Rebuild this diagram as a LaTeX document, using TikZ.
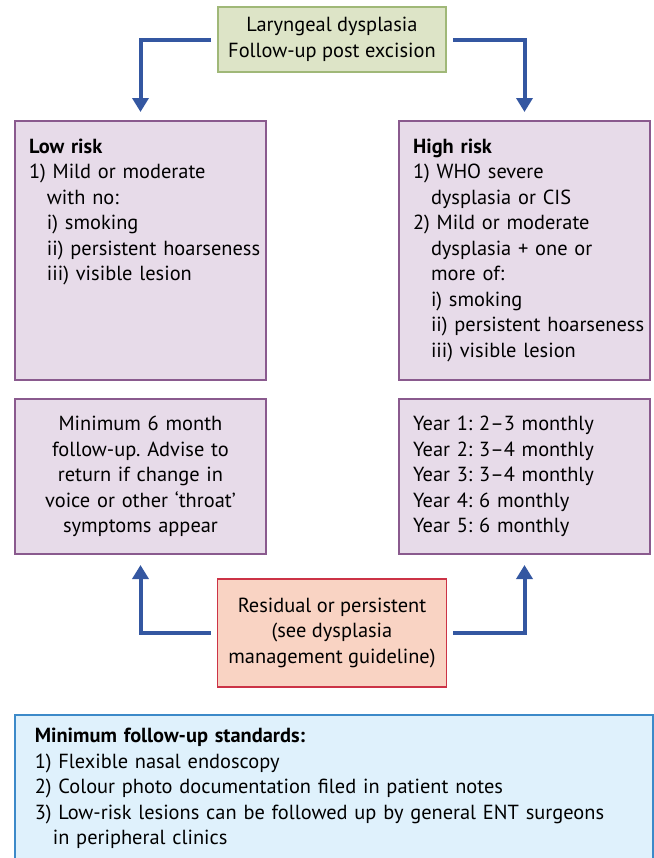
\documentclass[tikz,border=0pt]{standalone}
\usepackage{fontspec}
\setmainfont{PT Sans}
\usetikzlibrary{positioning,arrows.meta,calc}

\definecolor{lilacfill}{HTML}{E7DBE9}
\definecolor{lilacline}{HTML}{8A5A8E}
\definecolor{greenfill}{HTML}{DDE4C7}
\definecolor{greenline}{HTML}{A0B878}
\definecolor{redfill}{HTML}{F9D3C3}
\definecolor{redline}{HTML}{CC3346}
\definecolor{notefill}{HTML}{DFF1FC}
\definecolor{noteline}{HTML}{3C8AC9}
\definecolor{arrowblue}{HTML}{3457A1}

\newcommand{\ind}{\hspace*{9pt}}
\frenchspacing
\begin{document}
\begin{tikzpicture}[x=1pt,y=1pt,font=\fontsize{10.2}{12.75}\selectfont,node distance=8.5pt,
 b/.style={draw=lilacline,fill=lilacfill,line width=1pt,inner xsep=7pt,inner ysep=7pt},
 risk/.style={b,anchor=north west,align=left,text width=111.5pt,text height=9pt,text depth=106.5pt},
 plan/.style={b,minimum height=77.5pt,text width=111.5pt},
 ar/.style={-{Triangle[width=8pt,length=7pt]},line width=2pt,draw=arrowblue}]
\useasboundingbox (0,0) rectangle (327,-429);
\node[draw=greenline,fill=greenfill,line width=.8pt,minimum width=114pt,minimum height=32.5pt,align=center]
 (top) at (166,-19.75) {Laryngeal dysplasia\\ Follow-up post excision};
\node[risk] (low) at (7,-60) {\textbf{Low risk}\\
 1) Mild or moderate\\ \ind with no:\\ \ind i) smoking\\
 \ind\mbox{ii) persistent hoarseness}\\ \ind iii) visible lesion};
\node[risk] (high) at (199,-60) {\textbf{High risk}\\
 1) WHO severe\\ \ind dysplasia or CIS\\ 2) Mild or moderate\\
 \ind dysplasia + one or\\ \ind more of:\\ \ind i) smoking\\
 \ind\mbox{ii) persistent hoarseness}\\ \ind iii) visible lesion};
\node[plan,align=center,below=of low] (lowplan) {Minimum 6 month\\ follow-up. Advise to\\
 return if change in\\ voice or other `throat'\\ symptoms appear};
\node[plan,align=left,below=of high] (highplan) {Year 1: 2--3 monthly\\ Year 2: 3--4 monthly\\
 Year 3: 3--4 monthly\\ Year 4: 6 monthly\\ Year 5: 6 monthly};
\node[draw=redline,fill=redfill,line width=.8pt,minimum width=114.5pt,minimum height=54pt,align=center]
 (res) at (166,-316.5) {Residual or persistent\\ (see dysplasia\\ management guideline)};
\draw[ar] ([xshift=-3pt]top.west) -| ([yshift=4pt]low.north);
\draw[ar] ([xshift=3pt]top.east) -| ([yshift=4pt]high.north);
\draw[ar] ([xshift=-3pt]res.west) -| ([yshift=-5pt]lowplan.south);
\draw[ar] ([xshift=3pt]res.east) -| ([yshift=-5pt]highplan.south);
% standards box runs off the bottom edge
\node[draw=noteline,fill=notefill,line width=.8pt,anchor=north west,align=left,inner xsep=10pt,inner ysep=7pt,
 text width=299pt,text height=7pt,text depth=80pt] (std) at (7,-357)
 {\textbf{Minimum follow-up standards:}\\ 1) Flexible nasal endoscopy\\
 2) Colour photo documentation filed in patient notes\\
 3) Low-risk lesions can be followed up by general ENT surgeons\\ \ind in peripheral clinics};
\end{tikzpicture}
\end{document}
